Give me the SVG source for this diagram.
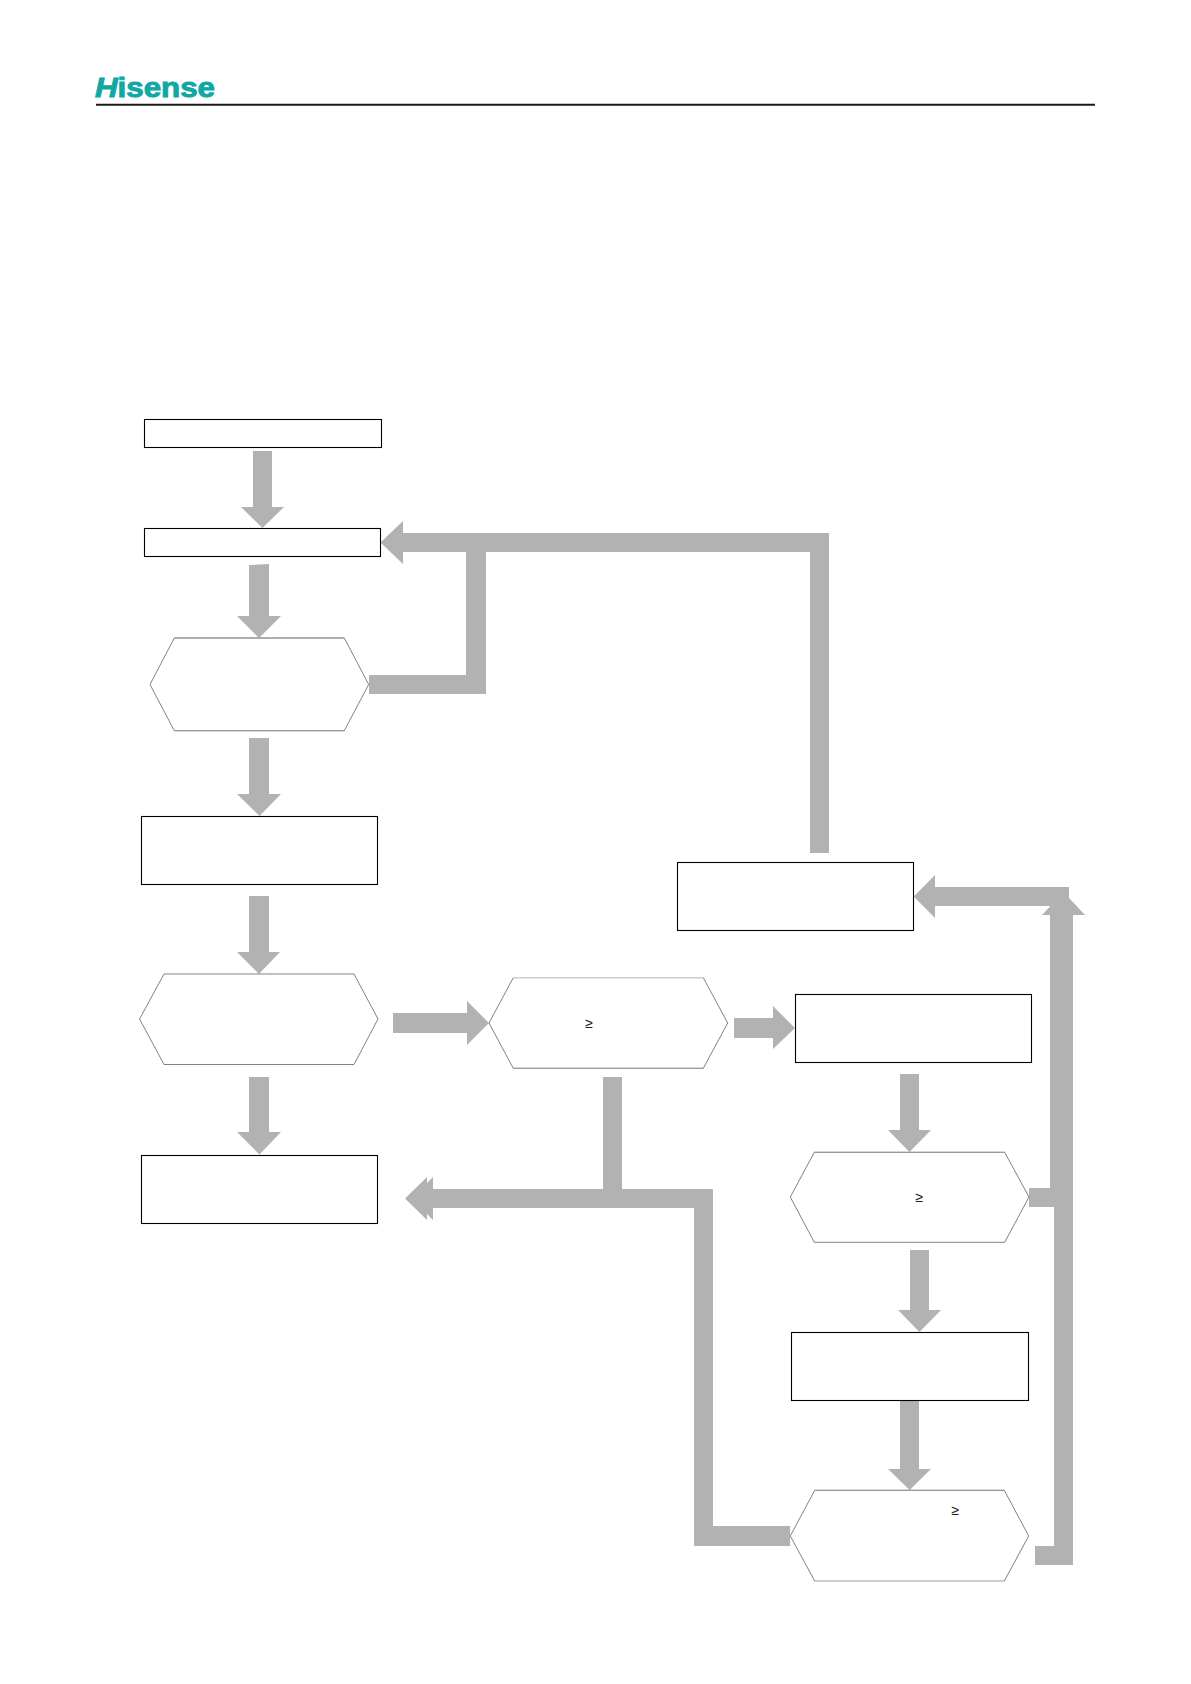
<svg xmlns="http://www.w3.org/2000/svg" width="1191" height="1684" viewBox="0 0 1191 1684">
<style>
.a{fill:#b2b2b2;stroke:none}
.r{fill:#fff;stroke:#000;stroke-width:1.1}
.h{fill:#fff;stroke:#4a4a4a;stroke-width:.7}
.t{stroke:#9a9a9a;stroke-width:1}
.l{stroke:#dcdcdc;stroke-width:1}
.g{font-family:"Liberation Sans",Arial,sans-serif;font-size:14px;fill:#222;text-anchor:middle}
.logo{font-family:"Liberation Sans",Arial,sans-serif;font-weight:700;font-size:27px;fill:#0fa8a4;stroke:#0fa8a4;stroke-width:.9}
</style>
<rect width="1191" height="1684" fill="#fff"/>
<g id="header">
<text class="logo" x="95" y="97" textLength="120" lengthAdjust="spacingAndGlyphs"><tspan font-style="italic">H</tspan>isense</text>
<line x1="96" y1="104.7" x2="1095" y2="104.7" stroke="#1a1a1a" stroke-width="2"/>
</g>
<g id="connectors">
<polygon class="a" points="253,451 272,451 272,507 284,507 262.5,528 241,507 253,507"/>
<polygon class="a" points="249,565 269,564 269,616 281,616 259,638 237,616 249,616"/>
<polygon class="a" points="369,675 466,675 466,552 810,552 810,853 829,853 829,533 403,533 403,521 380.5,542.5 403,564 403,552 486,552 486,694 369,694"/>
<polygon class="a" points="249,738 269,738 269,794 281,794 259.5,816 237,794 249,794"/>
<polygon class="a" points="249,896 269,896 269,952 280,952 259,974 237,952 249,952"/>
<polygon class="a" points="393,1013 467,1013 467,1001 489,1023 467,1045 467,1033 393,1033"/>
<polygon class="a" points="249,1077 269,1077 269,1132 281,1132 259.5,1154.5 237,1132 249,1132"/>
<polygon class="a" points="734,1018 773,1018 773,1006 795,1028 773,1049 773,1038 734,1038"/>
<polygon class="a" points="900,1074 919,1074 919,1130 931,1130 909.5,1152 888,1130 900,1130"/>
<polygon class="a" points="910,1250 929,1250 929,1310 941,1310 919.5,1332 898,1310 910,1310"/>
<polygon class="a" points="900,1400 919,1400 919,1469 931,1469 909.7,1490 888,1469 900,1469"/>
<polygon class="a" points="790,1526 713,1526 713,1189 622,1189 622,1077 603,1077 603,1189 433,1189 433,1177 427,1183 427,1177 405,1198.5 427,1220 427,1214 433,1220 433,1208 694,1208 694,1546 790,1546"/>
<polygon class="a" points="935,875 913.7,896.5 935,918 935,906 1050,906 1050,1188 1029,1188 1029,1207 1054,1207 1054,1546 1035,1546 1035,1565 1073,1565 1073,915 1085,915 1069,898 1069,887 935,887"/>
<polygon class="a" points="1042,915 1056,900 1056,915"/>
</g>
<g id="node-start"><rect class="r" x="144.5" y="419.5" width="237" height="28"/></g>
<g id="node-step1"><rect class="r" x="144.5" y="528.5" width="236" height="28"/></g>
<g id="node-check1"><polygon class="h" points="150,684.5 174.3,638 344.3,638 368.7,684.5 344.3,730.7 174.3,730.7"/><line class="t" x1="174.3" y1="638" x2="344.3" y2="638"/><line class="t" x1="174.3" y1="730.7" x2="344.3" y2="730.7"/></g>
<g id="node-step2"><rect class="r" x="141.5" y="816.5" width="236" height="68"/></g>
<g id="node-check2"><polygon class="h" points="139.6,1019 164,974 354,974 378,1019 354,1064.5 164,1064.5"/></g>
<g id="node-step3"><rect class="r" x="141.5" y="1155.5" width="236" height="68"/></g>
<g id="node-check3"><polygon class="h" points="489,1023 513.3,977.7 703.3,977.7 727.7,1023 703.3,1068.3 513.3,1068.3"/><line class="l" x1="513.3" y1="977.7" x2="703.3" y2="977.7"/><line class="t" x1="513.3" y1="1068.3" x2="703.3" y2="1068.3"/><text class="g" x="589" y="1028">≥</text></g>
<g id="node-step4"><rect class="r" x="677.5" y="862.5" width="236" height="68"/></g>
<g id="node-step5"><rect class="r" x="795.5" y="994.5" width="236" height="68"/></g>
<g id="node-check4"><polygon class="h" points="790.3,1197 814.3,1152.3 1004.7,1152.3 1029,1197 1004.7,1242.3 814.3,1242.3"/><line class="t" x1="814.3" y1="1152.3" x2="1004.7" y2="1152.3"/><text class="g" x="919.3" y="1202">≥</text></g>
<g id="node-step6"><rect class="r" x="791.5" y="1332.5" width="237" height="68"/></g>
<g id="node-check5"><polygon class="h" points="790.3,1536 814.7,1490.3 1004.3,1490.3 1028.7,1536 1004.3,1581 814.7,1581"/><line class="t" x1="814.7" y1="1490.3" x2="1004.3" y2="1490.3"/><line class="l" x1="814.7" y1="1581" x2="1004.3" y2="1581"/><text class="g" x="955.3" y="1514.7">≥</text></g>
</svg>
